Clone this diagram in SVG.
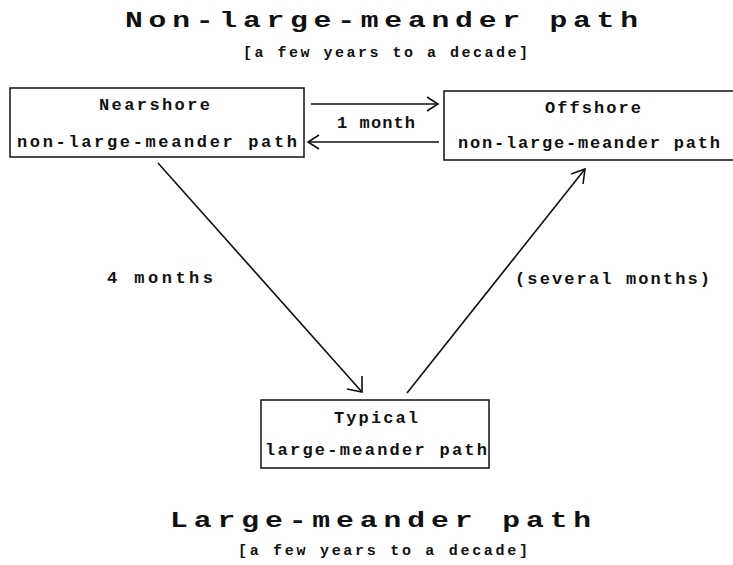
<svg xmlns="http://www.w3.org/2000/svg" width="733" height="565" viewBox="0 0 733 565">
<style>
text{font-family:"Liberation Mono","Courier New",monospace;fill:#111;}
.t{font-size:22px;font-weight:bold;}
.s{font-size:15px;font-weight:bold;}
.b{font-size:17px;font-weight:bold;}
.box{fill:#fff;stroke:#111;stroke-width:1.5;}
.c line{stroke:#111;stroke-width:1.6;}
.c path{fill:none;stroke:#111;stroke-width:1.6;}
</style>
<rect width="733" height="565" fill="#fff"/>
<g transform="translate(125,27) scale(1.35,1)">
<text class="t" x="0" y="0" textLength="380" lengthAdjust="spacing">Non-large-meander path</text>
</g>
<text class="s" x="243" y="57" textLength="285" lengthAdjust="spacing">[a few years to a decade]</text>
<g id="nearshore">
<rect class="box" x="10" y="88" width="294" height="69"/>
<text class="b" x="99" y="110" textLength="111" lengthAdjust="spacing">Nearshore</text>
<text class="b" x="17" y="147" textLength="280" lengthAdjust="spacing">non-large-meander path</text>
</g>
<g id="offshore">
<rect class="box" x="444" y="91" width="300" height="69"/>
<text class="b" x="545" y="113" textLength="96" lengthAdjust="spacing">Offshore</text>
<text class="b" x="458" y="148" textLength="262" lengthAdjust="spacing">non-large-meander path</text>
</g>
<g id="typical">
<rect class="box" x="261" y="400" width="228" height="68"/>
<text class="b" x="334" y="423" textLength="84" lengthAdjust="spacing">Typical</text>
<text class="b" x="265" y="455" textLength="222" lengthAdjust="spacing">large-meander path</text>
</g>
<g class="c" id="connectors">
<line x1="311" y1="104" x2="437" y2="104"/>
<path d="M427,97 L438,104 L427,111"/>
<line x1="439" y1="142" x2="309" y2="142"/>
<path d="M319,135 L308,142 L319,149"/>
<line x1="158" y1="163" x2="362" y2="392"/>
<path d="M347,389 L362,392 L362,376"/>
<line x1="407" y1="393" x2="585" y2="169"/>
<path d="M571,174 L585,169 L583,184"/>
</g>
<text class="b" x="337" y="128" textLength="78" lengthAdjust="spacing">1 month</text>
<text class="b" x="107" y="283" textLength="106" lengthAdjust="spacing">4 months</text>
<text class="b" x="515" y="284" textLength="195" lengthAdjust="spacing">(several months)</text>
<g transform="translate(170,527) scale(1.35,1)">
<text class="t" x="0" y="0" textLength="312" lengthAdjust="spacing">Large-meander path</text>
</g>
<text class="s" x="238" y="555" textLength="290" lengthAdjust="spacing">[a few years to a decade]</text>
</svg>
